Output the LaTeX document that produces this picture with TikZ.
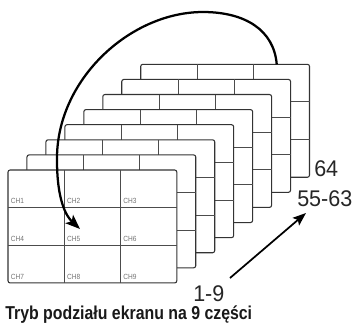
\documentclass[tikz,border=0pt]{standalone}
\usepackage{fontspec}
\setmainfont{Liberation Sans}
\newfontfamily\chfont[FakeStretch=0.88]{Liberation Sans}
\newfontfamily\titlefont[FakeStretch=0.85]{Liberation Sans}
\newfontfamily\numfont[FakeStretch=0.95]{Liberation Sans}
\usetikzlibrary{arrows.meta,calc}
\begin{document}
\begin{tikzpicture}[x=0.75pt,y=-0.75pt,
  screen/.style={draw=black!80, fill=white, line width=0.8pt, rounded corners=1.6pt,
    minimum width=126.6pt, minimum height=84.7pt, inner sep=0pt, outer sep=0pt, anchor=north west},
  gridline/.style={draw=black!70, line width=0.7pt},
  chlabel/.style={font=\chfont\fontsize{5.6pt}{6pt}\selectfont, text=black!55, anchor=base west, inner sep=0pt},
  numlabel/.style={font=\numfont\fontsize{17pt}{18pt}\selectfont, text=black!85, anchor=base west, inner sep=0pt},
  titlelabel/.style={font=\titlefont\bfseries\fontsize{14pt}{16pt}\selectfont, text=black!90, anchor=base west, inner sep=0pt},
  bigarrow/.style={line width=1.7pt, -{Stealth[length=11pt,width=8.5pt,inset=2.5pt]}},
  smallarrow/.style={line width=1.3pt, -{Stealth[length=10pt,width=7.5pt,inset=2pt]}}]
\useasboundingbox (0,0) rectangle (357,330);
\foreach \i in {7,6,5,4,3,2,1,0} {
  \pgfmathsetmacro\X{8+18.96*\i}
  \pgfmathsetmacro\Y{170-15.1*\i}
  \node[screen] (s\i) at (\X,\Y) {};
  \draw[gridline] (\X+56.3,\Y) -- ++(0,112.9) (\X+112.6,\Y) -- ++(0,112.9)
    (\X,\Y+37.6) -- ++(168.8,0) (\X,\Y+75.3) -- ++(168.8,0);
}
\foreach \r in {0,1,2} {
  \foreach \c in {0,1,2} {
    \pgfmathtruncatemacro\n{3*\r+\c+1}
    \node[chlabel] (ch\n) at (8+56.3*\c+2.5, 170+37.6*\r+33.8) {CH\n};
  }
}
\coordinate (start) at ($(s7.north west)+(136,0)$);
\coordinate (top) at (203,12);
\coordinate (left) at (57,160);
\coordinate (tip) at (80,229);
\draw[bigarrow] (start) .. controls (274,30) and (245,12) .. (top)
  .. controls (130,12) and (56,80) .. (left)
  .. controls (57,200) and (66,216) .. (tip);
\node[numlabel] (l64) at (314,176.5) {64};
\node[numlabel] (l5563) at (297,206) {55-63};
\node[numlabel] (l19) at (193,301) {1-9};
\coordinate (a) at (230,278);
\coordinate (b) at (306,213);
\draw[smallarrow] (a) -- (b);
\node[titlelabel] (title) at (5,319) {Tryb podziału ekranu na 9 części};
\end{tikzpicture}
\end{document}
